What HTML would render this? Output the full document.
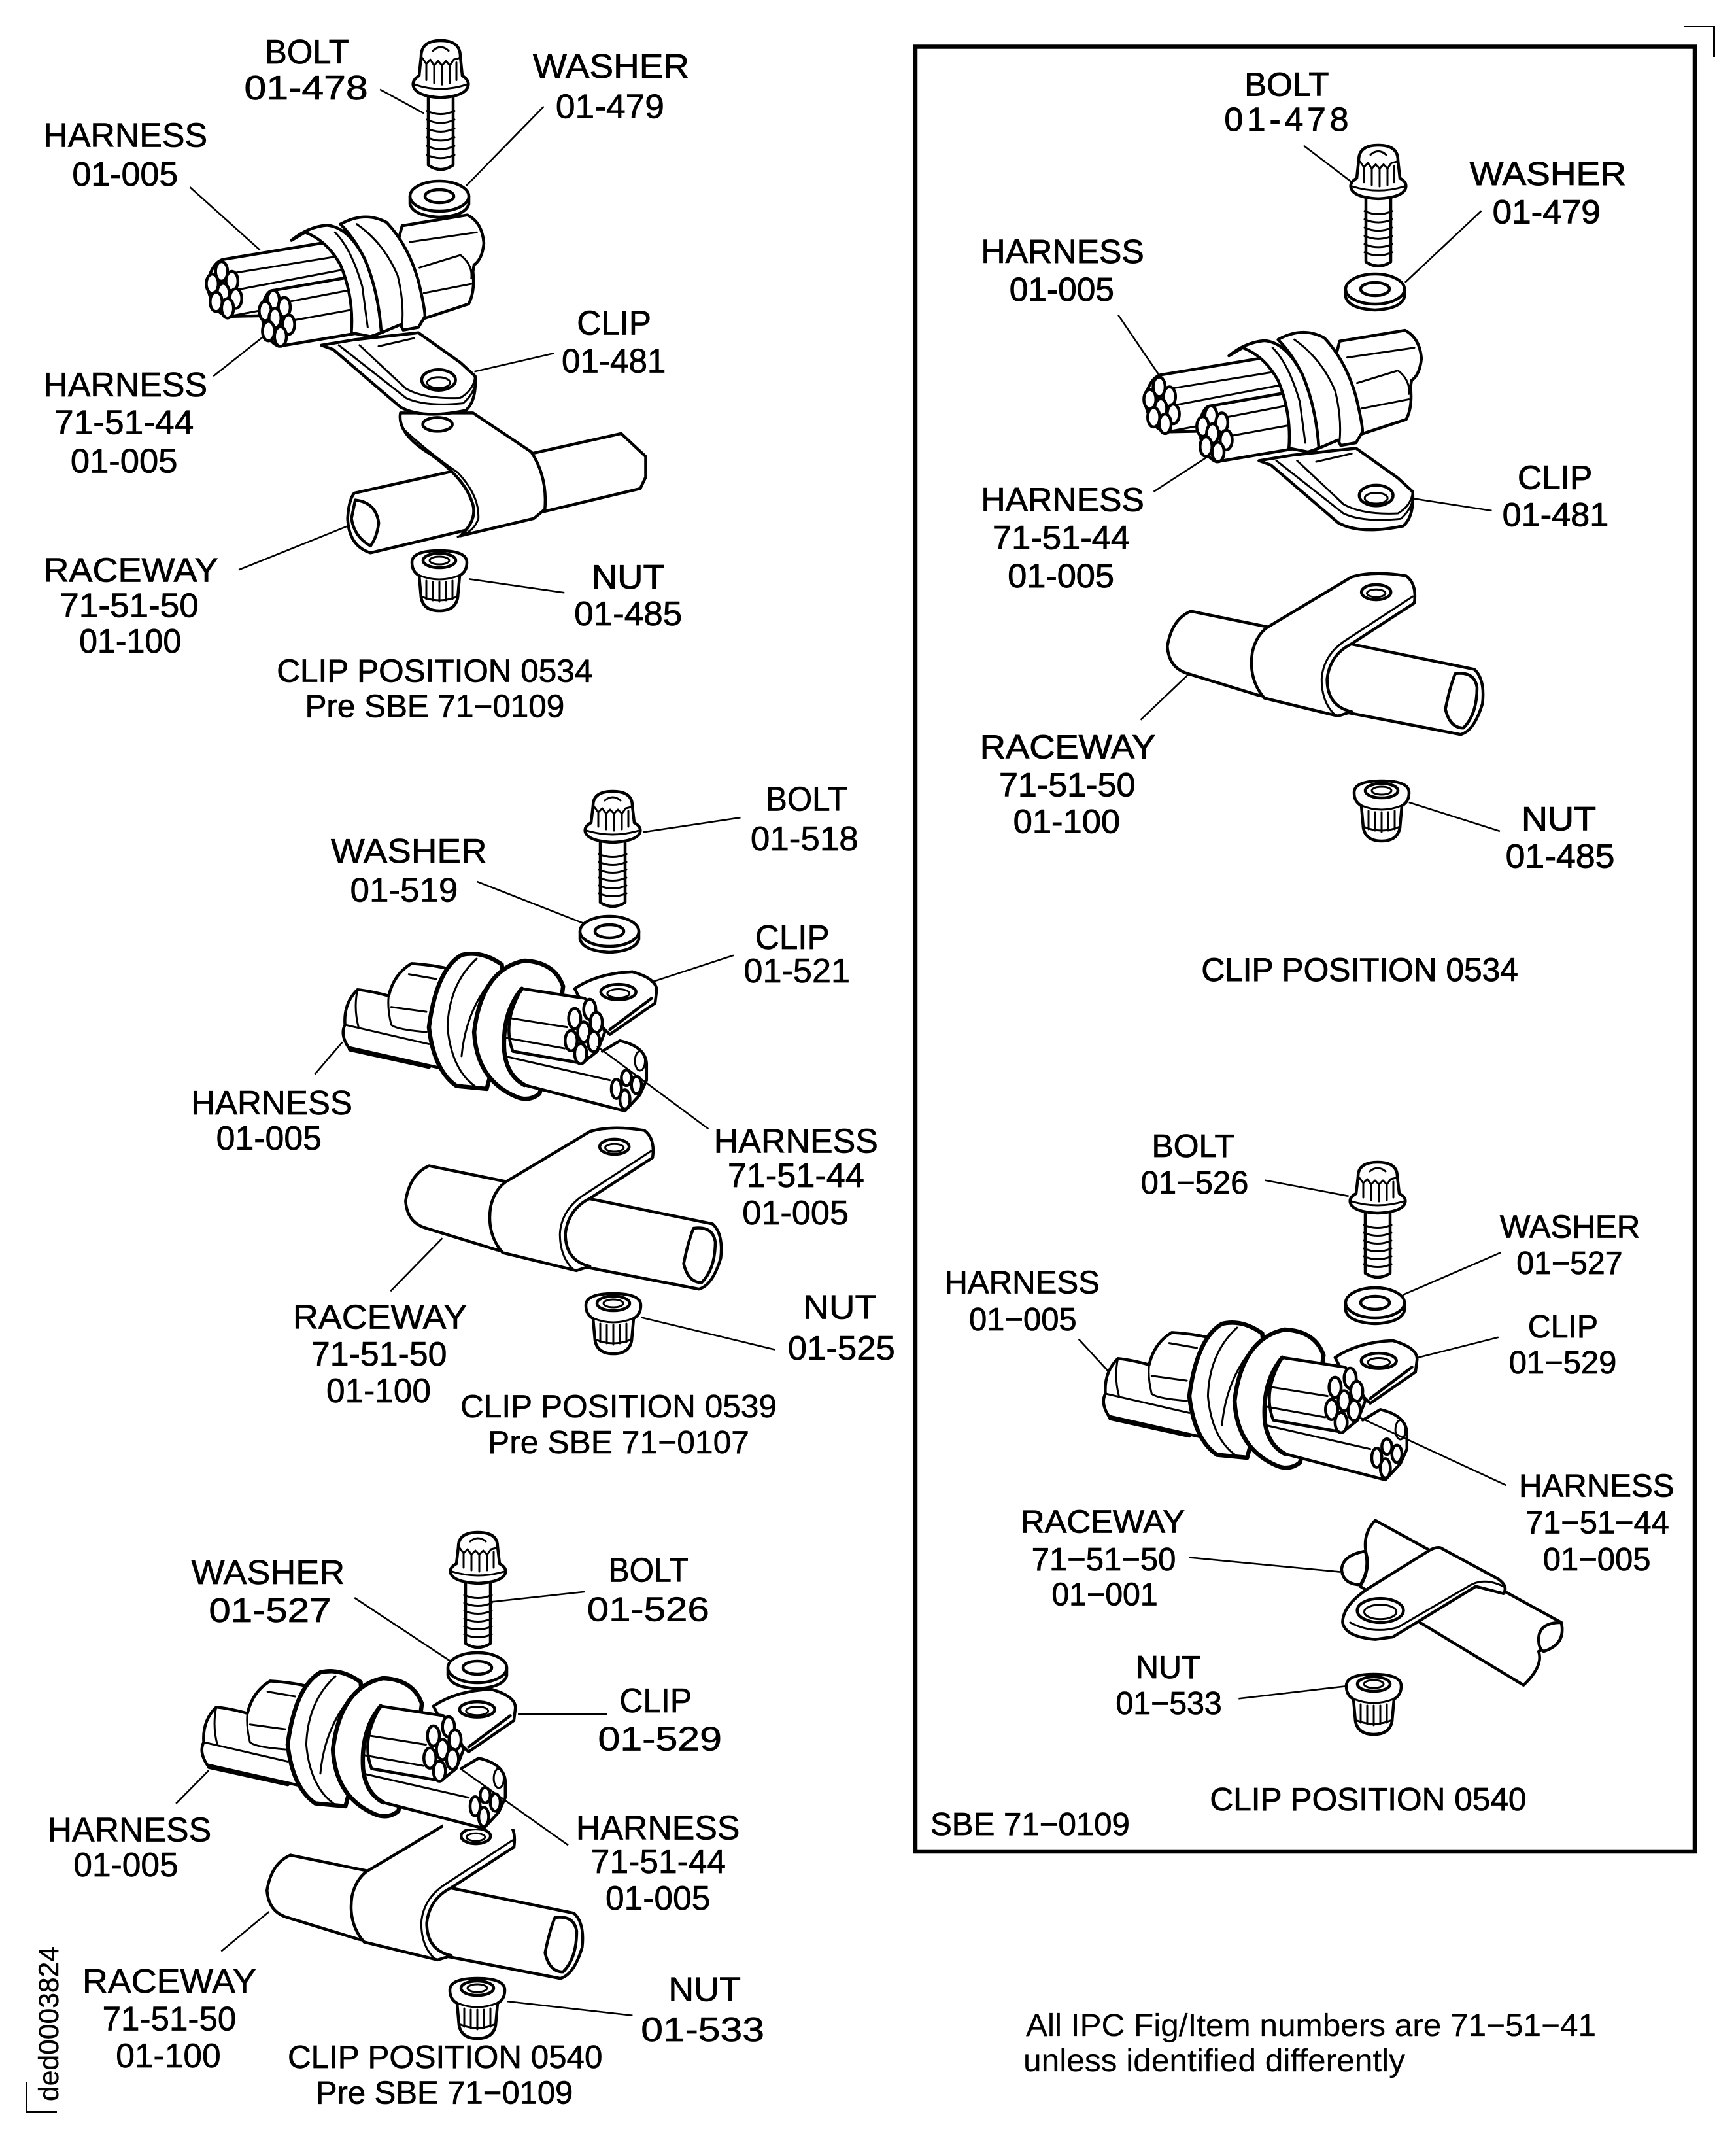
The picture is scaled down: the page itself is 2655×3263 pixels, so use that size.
<!DOCTYPE html>
<html><head><meta charset="utf-8"><title>Clip positions</title>
<style>
html,body{margin:0;padding:0;background:#fff}
svg{display:block}
path,ellipse,line,rect,polyline{vector-effect:non-scaling-stroke}
.d{fill:#fff;stroke:#000;stroke-width:4.5;stroke-linejoin:round;stroke-linecap:round}
.n{fill:none}
.t{fill:none;stroke-width:3}
.h{stroke-width:6.5}
.hn{fill:none;stroke-width:6.5}
.l{stroke:#000;stroke-width:2.6;fill:none}
text{font-family:"Liberation Sans",sans-serif;fill:#000;stroke:#000;stroke-width:1.1}
</style></head><body>
<svg xmlns="http://www.w3.org/2000/svg" width="2655" height="3263" viewBox="0 0 2655 3263">
<rect width="2655" height="3263" fill="#fff"/>
<defs>
<g id="bolt" class="d">
<path d="M-19,74 L-19,170 Q0,182 19,170 L19,74 Z"/>
<path class="t" d="M-21,96 Q0,105 21,96 M-21,108 Q0,117 21,108 M-21,120 Q0,129 21,120 M-21,132 Q0,141 21,132 M-21,144 Q0,153 21,144 M-21,156 Q0,165 21,156"/>
<path d="M-30,22 Q-30,0 0,0 Q30,0 30,22 L33,48 Q44,54 42,62 Q38,76 0,78 Q-38,76 -42,62 Q-44,54 -33,48 Z"/>
<path class="t" d="M-12,14 Q0,4 12,14"/>
<path class="t" d="M-28,24 L-22,32 L-16,26 L-10,34 L-4,28 L2,34 L8,28 L14,34 L20,26 L28,24 M-22,32 V54 M-10,34 V58 M2,34 V60 M14,34 V58 M24,30 V54 M-40,60 Q0,72 40,60"/>
</g>
<g id="washer" class="d">
<path d="M-45,0 V12 Q-40,30 0,32 Q40,30 45,12 V0 Z"/>
<ellipse cx="0" cy="0" rx="45" ry="23"/>
<ellipse cx="0" cy="0" rx="22" ry="10"/>
</g>
<g id="nut" class="d">
<path d="M-42,18 Q-42,0 0,0 Q42,0 42,18 Q42,32 31,38 L28,72 Q24,92 0,92 Q-24,92 -28,72 L-31,38 Q-42,32 -42,18 Z"/>
<ellipse cx="0" cy="15" rx="25" ry="11"/>
<ellipse class="t" cx="0" cy="15" rx="15" ry="6"/>
<path class="t" d="M-30,38 Q0,50 30,38 M-28,70 Q0,82 28,70 M-20,46 V74 M-10,48 V76 M0,48 V78 M10,48 V76 M20,46 V74"/>
</g>
<g id="harnessA" class="d">
<path d="M838,628 L958,608 Q985,622 988,660 Q985,690 970,700 L968,712 Q972,750 960,772 L875,800 L820,700 Z"/>
<path class="t" d="M852,658 L975,640 M870,705 L945,682 Q968,700 965,725 M878,752 L965,735"/>
<path d="M510,690 L720,655 L760,790 L520,795 Q490,790 480,735 Q490,695 510,690 Z"/>
<path class="t" d="M530,715 L715,685 M540,745 L735,708 M520,795 L600,780"/>
<ellipse cx="507" cy="712" rx="11" ry="18"/><ellipse cx="490" cy="735" rx="11" ry="18"/><ellipse cx="526" cy="730" rx="11" ry="18"/><ellipse cx="510" cy="752" rx="11" ry="18"/><ellipse cx="533" cy="762" rx="11" ry="18"/><ellipse cx="497" cy="768" rx="11" ry="18"/><ellipse cx="518" cy="780" rx="11" ry="18"/>
<path d="M597,748 L745,722 L760,825 L612,850 Q585,840 580,785 Q585,755 597,748 Z"/>
<path class="t" d="M630,768 L750,745 M640,802 L750,782"/>
<ellipse cx="602" cy="765" rx="11" ry="18"/><ellipse cx="587" cy="785" rx="11" ry="18"/><ellipse cx="622" cy="778" rx="11" ry="18"/><ellipse cx="605" cy="798" rx="11" ry="18"/><ellipse cx="630" cy="810" rx="11" ry="18"/><ellipse cx="593" cy="822" rx="11" ry="18"/><ellipse cx="615" cy="832" rx="11" ry="18"/>
<path d="M690,848 L712,856 L835,962 Q875,985 955,968 Q975,950 972,905 L945,880 L868,825 L750,838 Z"/>
<path class="t" d="M722,848 L845,945 Q880,962 950,955 Q972,935 972,915 M760,848 L845,928 Q880,948 945,945 Q970,930 972,905"/>
<ellipse cx="905" cy="912" rx="31" ry="19"/><ellipse class="t" cx="905" cy="917" rx="21" ry="10"/>
<path class="t" d="M795,850 L860,835"/>
<path d="M635,655 Q665,630 700,627 Q740,630 770,690 Q795,750 800,825 L780,832 L745,825 Q750,760 725,700 Q700,655 660,640 Z"/>
<path d="M725,625 Q770,600 810,622 Q850,665 868,730 Q880,780 880,795 L868,815 L840,820 L835,810 L800,825 Q795,750 770,690 Q750,650 725,625 Z"/>
<path class="t" d="M755,625 Q805,660 830,720 Q842,770 838,812 M715,640 Q745,670 765,740 L775,815"/>
</g>
<g id="harnessB" class="d">
<path d="M835,510 Q880,478 950,475 Q1000,490 998,515 L995,540 L905,605 L860,560 Z"/>
<path class="n" d="M988,530 L905,595"/>
<ellipse cx="922" cy="517" rx="35" ry="16"/><ellipse class="t" cx="922" cy="520" rx="22" ry="9"/>
<path d="M510,458 Q550,460 590,470 L590,680 L385,632 Q368,605 378,585 Q375,540 403,512 Q430,515 465,525 Q475,480 510,458 Z"/>
<path class="t" d="M378,585 L545,625 M465,525 Q462,550 470,585 Q480,595 540,600 M470,548 L540,558 M505,480 L560,490 M403,512 Q395,550 405,590"/>
<path class="hn" d="M388,636 L545,672"/>
<path class="h" d="M610,440 Q560,470 545,590 Q555,680 600,712 L660,718 L700,560 L690,460 Q650,430 610,440 Z"/>
<path class="t" d="M640,448 Q585,500 582,590 Q590,680 640,715"/>
<path class="h" d="M812,505 Q795,455 735,452 Q650,470 635,600 Q640,700 720,735 Q745,745 765,728 L800,600 Z"/>
<path class="t" d="M690,470 Q620,540 610,650"/>
<path d="M700,640 L890,640 L925,618 Q975,630 978,665 L978,700 L965,730 L935,764 L735,710 Z" stroke="none"/>
<path class="n" d="M735,710 L935,764 L965,730 L978,700 L978,665 Q975,630 925,618 L890,640"/>
<path class="t" d="M695,650 L905,700"/>
<ellipse cx="918" cy="718" rx="10" ry="20"/><ellipse cx="935" cy="740" rx="10" ry="20"/><ellipse cx="958" cy="710" rx="10" ry="18"/><ellipse cx="938" cy="695" rx="10" ry="16"/><ellipse class="t" cx="965" cy="660" rx="10" ry="20"/>
<path d="M730,510 L855,530 L880,560 L895,600 L880,640 L850,665 L712,640 Q690,580 730,510 Z"/>
<path class="hn" d="M730,510 Q690,560 695,640 Q700,690 735,710"/>
<path class="t" d="M698,612 L815,634 M700,570 L820,590"/>
<ellipse cx="865" cy="553" rx="12" ry="21"/><ellipse cx="835" cy="572" rx="12" ry="21"/><ellipse cx="878" cy="580" rx="12" ry="21"/><ellipse cx="853" cy="600" rx="12" ry="21"/><ellipse cx="828" cy="618" rx="12" ry="21"/><ellipse cx="873" cy="620" rx="12" ry="21"/><ellipse cx="847" cy="645" rx="12" ry="21"/>
</g>
<g id="raceway" class="d">
<path d="M565,1125 L1085,1232 Q1105,1250 1100,1295 Q1085,1345 1060,1352 L690,1280 L560,1240 Q525,1230 522,1190 Q530,1140 565,1125 Z"/>
<path d="M1050,1240 Q1085,1235 1090,1265 Q1090,1315 1065,1340 Q1040,1340 1032,1305 Q1040,1265 1050,1240 Z"/>
<path d="M705,1155 L860,1062 Q900,1050 960,1060 Q980,1075 975,1110 L860,1185 Q820,1205 815,1250 Q815,1300 860,1310 L835,1318 L700,1285 Q670,1250 678,1200 Q685,1170 705,1155 Z"/>
<path class="t" d="M972,1098 L850,1178 Q808,1205 805,1250 Q805,1295 832,1318"/>
<ellipse cx="905" cy="1090" rx="27" ry="14"/><ellipse class="t" cx="905" cy="1092" rx="17" ry="7"/>
</g>
</defs>

<!-- frame and corner marks -->
<rect x="1400" y="71.5" width="1192" height="2759.5" fill="none" stroke="#000" stroke-width="6.5"/>
<path d="M2575,40.5 H2621.5 V87" fill="none" stroke="#000" stroke-width="3"/>
<path d="M40.5,3183 V3229.5 H87" fill="none" stroke="#000" stroke-width="3"/>
<text transform="translate(89,3213) rotate(-90)" font-size="43" textLength="237" lengthAdjust="spacingAndGlyphs" style="stroke-width:.4">ded0003824</text>
<text x="1569" y="3113" font-size="48" textLength="872" lengthAdjust="spacingAndGlyphs" style="stroke-width:.2">All IPC Fig/Item numbers are 71−51−41</text>
<text x="1565" y="3167" font-size="48" textLength="584" lengthAdjust="spacingAndGlyphs" style="stroke-width:.2">unless identified differently</text>
<text x="704" y="2167" font-size="49" textLength="484" lengthAdjust="spacingAndGlyphs" style="stroke-width:.5">CLIP POSITION 0539</text>
<text x="746" y="2222" font-size="49" textLength="400" lengthAdjust="spacingAndGlyphs" style="stroke-width:.5">Pre SBE 71−0107</text>

<!-- parts -->
<use href="#bolt" transform="translate(674,62) scale(1,1.12)"/>
<use href="#washer" transform="translate(672,300)"/>
<use href="#nut" transform="translate(672,842)"/>
<use href="#bolt" transform="translate(2108,222) scale(1,1.05)"/>
<use href="#washer" transform="translate(2103,442)"/>
<use href="#nut" transform="translate(2113,1194)"/>
<use href="#bolt" transform="translate(937,1210)"/>
<use href="#washer" transform="translate(932,1424)"/>
<use href="#nut" transform="translate(938,1978)"/>
<use href="#bolt" transform="translate(2107,1777)"/>
<use href="#washer" transform="translate(2103,1992)"/>
<use href="#nut" transform="translate(2101,2560)"/>
<use href="#bolt" transform="translate(731,2343)"/>
<use href="#washer" transform="translate(730,2550)"/>
<use href="#nut" transform="translate(730,3025)"/>

<!-- G1 raceway -->
<g transform="scale(.8333,.7015)" class="d">
<path d="M650,1075 L1140,945 L1185,995 L1185,1040 L1175,1065 L680,1205 Q640,1190 638,1130 Q640,1090 650,1075 Z"/>
<path d="M652,1090 Q690,1095 695,1140 Q692,1170 680,1190 Q650,1170 645,1130 Z"/>
<path d="M735,900 Q728,945 790,990 Q850,1040 865,1090 Q880,1130 845,1168 L980,1130 L1000,1110 Q1005,1040 975,985 L868,900 Z"/>
<path class="t" d="M740,935 Q790,990 840,1030 Q880,1080 878,1130 Q870,1160 840,1170"/>
<ellipse cx="803" cy="925" rx="27" ry="15"/>
</g>
<use href="#harnessA" transform="translate(-84,-176) scale(.834,.83)"/>
<use href="#harnessA" transform="translate(1350,0) scale(.8339,.8307)"/>
<use href="#raceway" transform="translate(1350,0) scale(.8339,.8307)"/>
<use href="#raceway" transform="translate(185,848) scale(.8339,.8307)"/>
<use href="#harnessB" transform="translate(237,1136) scale(.7687,.7367)"/>
<use href="#harnessB" transform="translate(1400,1700) scale(.7687,.7367)"/>
<use href="#raceway" transform="translate(-27,1902) scale(.8339,.8307)"/>
<rect x="677" y="2770" width="118" height="26" fill="#fff"/>
<use href="#harnessB" transform="translate(21,2233) scale(.7687,.7367)"/>

<!-- G4 raceway -->
<g transform="translate(1400,1700) scale(.7687,.7367)" class="d">
<path d="M915,848 L1285,1060 Q1295,1095 1240,1120 Q1250,1150 1210,1190 L885,985 Q900,960 900,930 Q885,880 915,848 Z"/>
<path d="M895,912 Q850,920 848,950 Q850,980 885,982 Q905,950 895,912 Z"/>
<path d="M1285,1060 Q1240,1060 1240,1095 Q1240,1115 1250,1120 Q1295,1105 1285,1060 Z"/>
<path d="M1045,905 L1160,970 Q1180,985 1170,1000 L1115,985 L950,1090 L915,1095 Q855,1090 850,1060 Q850,1025 900,990 L1020,912 Q1035,902 1045,905 Z"/>
<path class="t" d="M1170,985 Q1130,965 1100,985 L960,1070 Q910,1085 865,1060"/>
<ellipse cx="925" cy="1035" rx="46" ry="25"/><ellipse class="t" cx="925" cy="1038" rx="32" ry="15"/>
</g>

<!-- G1 labels -->
<g transform="scale(.83,.7015)">
<g font-size="74">
<text x="488" y="138" textLength="155" lengthAdjust="spacingAndGlyphs">BOLT</text>
<text x="450" y="217" textLength="228" lengthAdjust="spacingAndGlyphs">01-478</text>
<text x="982" y="170" textLength="288" lengthAdjust="spacingAndGlyphs">WASHER</text>
<text x="1024" y="257" textLength="200" lengthAdjust="spacingAndGlyphs">01-479</text>
<text x="80" y="320" textLength="302" lengthAdjust="spacingAndGlyphs">HARNESS</text>
<text x="133" y="405" textLength="195" lengthAdjust="spacingAndGlyphs">01-005</text>
<text x="1063" y="729" textLength="137" lengthAdjust="spacingAndGlyphs">CLIP</text>
<text x="1035" y="812" textLength="192" lengthAdjust="spacingAndGlyphs">01-481</text>
<text x="80" y="864" textLength="302" lengthAdjust="spacingAndGlyphs">HARNESS</text>
<text x="100" y="946" textLength="257" lengthAdjust="spacingAndGlyphs">71-51-44</text>
<text x="130" y="1030" textLength="197" lengthAdjust="spacingAndGlyphs">01-005</text>
<text x="80" y="1268" textLength="322" lengthAdjust="spacingAndGlyphs">RACEWAY</text>
<text x="110" y="1345" textLength="256" lengthAdjust="spacingAndGlyphs">71-51-50</text>
<text x="146" y="1423" textLength="188" lengthAdjust="spacingAndGlyphs">01-100</text>
<text x="1090" y="1283" textLength="135" lengthAdjust="spacingAndGlyphs">NUT</text>
<text x="1058" y="1363" textLength="199" lengthAdjust="spacingAndGlyphs">01-485</text>
</g>
<g font-size="70" style="stroke-width:.6">
<text x="510" y="1486" textLength="582" lengthAdjust="spacingAndGlyphs">CLIP POSITION 0534</text>
<text x="562" y="1563" textLength="478" lengthAdjust="spacingAndGlyphs">Pre SBE 71−0109</text>
</g>
<path class="l" d="M700,195 L781,247 M1002,232 L859,405 M350,408 L479,545 M393,820 L486,733 M1021,770 L874,810 M440,1242 L644,1145 M1040,1292 L864,1262"/>
</g>

<!-- G2 labels -->
<g transform="translate(1347,0) scale(.8339,.827)">
<g font-size="62" style="stroke-width:.4">
<text x="667" y="177" textLength="155" lengthAdjust="spacingAndGlyphs">BOLT</text>
<text x="630" y="242" textLength="228">01-478</text>
<text x="1080" y="342" textLength="287" lengthAdjust="spacingAndGlyphs">WASHER</text>
<text x="1122" y="413" textLength="198" lengthAdjust="spacingAndGlyphs">01-479</text>
<text x="184" y="486" textLength="299" lengthAdjust="spacingAndGlyphs">HARNESS</text>
<text x="236" y="556" textLength="192" lengthAdjust="spacingAndGlyphs">01-005</text>
<text x="184" y="945" textLength="299" lengthAdjust="spacingAndGlyphs">HARNESS</text>
<text x="205" y="1015" textLength="252" lengthAdjust="spacingAndGlyphs">71-51-44</text>
<text x="233" y="1086" textLength="195" lengthAdjust="spacingAndGlyphs">01-005</text>
<text x="1168" y="904" textLength="137" lengthAdjust="spacingAndGlyphs">CLIP</text>
<text x="1140" y="973" textLength="195" lengthAdjust="spacingAndGlyphs">01-481</text>
<text x="182" y="1402" textLength="322" lengthAdjust="spacingAndGlyphs">RACEWAY</text>
<text x="217" y="1472" textLength="250" lengthAdjust="spacingAndGlyphs">71-51-50</text>
<text x="243" y="1540" textLength="196" lengthAdjust="spacingAndGlyphs">01-100</text>
<text x="1175" y="1535" textLength="137" lengthAdjust="spacingAndGlyphs">NUT</text>
<text x="1146" y="1604" textLength="200" lengthAdjust="spacingAndGlyphs">01-485</text>
<text x="588" y="1814" font-size="60" textLength="581" lengthAdjust="spacingAndGlyphs">CLIP POSITION 0534</text>
</g>
</g>
<g transform="translate(1350,0) scale(.8339,.8307)">
<path class="l" d="M772,268 L860,335 M1098,388 L958,520 M432,580 L510,695 M497,905 L600,838 M1117,940 L975,918 M473,1325 L562,1240 M1132,1530 L965,1477"/>
</g>

<!-- G3 labels -->
<g transform="translate(250,1150) scale(.7015,.638)">
<g font-size="81">
<text x="1313" y="140" textLength="178" lengthAdjust="spacingAndGlyphs">BOLT</text>
<text x="1280" y="235" textLength="235" lengthAdjust="spacingAndGlyphs">01-518</text>
<text x="365" y="265" textLength="340" lengthAdjust="spacingAndGlyphs">WASHER</text>
<text x="407" y="358" textLength="235" lengthAdjust="spacingAndGlyphs">01-519</text>
<text x="1290" y="472" textLength="162" lengthAdjust="spacingAndGlyphs">CLIP</text>
<text x="1265" y="552" textLength="232" lengthAdjust="spacingAndGlyphs">01-521</text>
<text x="60" y="868" textLength="352" lengthAdjust="spacingAndGlyphs">HARNESS</text>
<text x="115" y="953" textLength="230" lengthAdjust="spacingAndGlyphs">01-005</text>
<text x="1200" y="960" textLength="358" lengthAdjust="spacingAndGlyphs">HARNESS</text>
<text x="1230" y="1042" textLength="298" lengthAdjust="spacingAndGlyphs">71-51-44</text>
<text x="1262" y="1132" textLength="232" lengthAdjust="spacingAndGlyphs">01-005</text>
<text x="282" y="1382" textLength="380" lengthAdjust="spacingAndGlyphs">RACEWAY</text>
<text x="322" y="1470" textLength="296" lengthAdjust="spacingAndGlyphs">71-51-50</text>
<text x="355" y="1558" textLength="228" lengthAdjust="spacingAndGlyphs">01-100</text>
<text x="1395" y="1358" textLength="160" lengthAdjust="spacingAndGlyphs">NUT</text>
<text x="1361" y="1456" textLength="234" lengthAdjust="spacingAndGlyphs">01-525</text>
</g>
<path class="l" d="M1258,157 L1045,192 M683,310 L915,410 M1243,487 L1062,552 M330,772 L390,695 M1188,903 L945,705 M495,1292 L608,1165 M1333,1432 L1042,1355"/>
</g>

<!-- G4 labels -->
<g transform="translate(1400,1700) scale(.766,.734)">
<g font-size="67" style="stroke-width:.2">
<text x="472" y="94" textLength="165" lengthAdjust="spacingAndGlyphs">BOLT</text>
<text x="450" y="170" textLength="215" lengthAdjust="spacingAndGlyphs">01−526</text>
<text x="1167" y="262" textLength="280" lengthAdjust="spacingAndGlyphs">WASHER</text>
<text x="1200" y="338" textLength="212" lengthAdjust="spacingAndGlyphs">01−527</text>
<text x="58" y="378" textLength="310" lengthAdjust="spacingAndGlyphs">HARNESS</text>
<text x="107" y="455" textLength="215" lengthAdjust="spacingAndGlyphs">01−005</text>
<text x="1223" y="470" textLength="140" lengthAdjust="spacingAndGlyphs">CLIP</text>
<text x="1185" y="545" textLength="215" lengthAdjust="spacingAndGlyphs">01−529</text>
<text x="1205" y="802" textLength="310" lengthAdjust="spacingAndGlyphs">HARNESS</text>
<text x="1218" y="878" textLength="287" lengthAdjust="spacingAndGlyphs">71−51−44</text>
<text x="1253" y="955" textLength="215" lengthAdjust="spacingAndGlyphs">01−005</text>
<text x="210" y="877" textLength="328" lengthAdjust="spacingAndGlyphs">RACEWAY</text>
<text x="232" y="955" textLength="288" lengthAdjust="spacingAndGlyphs">71−51−50</text>
<text x="272" y="1028" textLength="212" lengthAdjust="spacingAndGlyphs">01−001</text>
<text x="440" y="1180" textLength="130" lengthAdjust="spacingAndGlyphs">NUT</text>
<text x="400" y="1255" textLength="212" lengthAdjust="spacingAndGlyphs">01−533</text>
<text x="588" y="1455" textLength="632" lengthAdjust="spacingAndGlyphs">CLIP POSITION 0540</text>
<text x="30" y="1507" textLength="398" lengthAdjust="spacingAndGlyphs">SBE 71−0109</text>
</g>
</g>
<g transform="translate(1400,1700) scale(.7687,.7367)">
<path class="l" d="M695,142 L862,175 M1165,292 L970,380 M325,472 L385,540 M1160,468 L1000,510 M1175,775 L885,635 M545,925 L845,955 M643,1218 L858,1192"/>
</g>

<!-- G5 labels -->
<g transform="translate(0,2300) scale(.764,.615)">
<g font-size="84">
<text x="383" y="198" textLength="307" lengthAdjust="spacingAndGlyphs">WASHER</text>
<text x="418" y="293" textLength="245" lengthAdjust="spacingAndGlyphs">01-527</text>
<text x="1218" y="193" textLength="160" lengthAdjust="spacingAndGlyphs">BOLT</text>
<text x="1175" y="290" textLength="245" lengthAdjust="spacingAndGlyphs">01-526</text>
<text x="1240" y="517" textLength="145" lengthAdjust="spacingAndGlyphs">CLIP</text>
<text x="1197" y="612" textLength="248" lengthAdjust="spacingAndGlyphs">01-529</text>
<text x="95" y="838" textLength="328" lengthAdjust="spacingAndGlyphs">HARNESS</text>
<text x="147" y="925" textLength="210" lengthAdjust="spacingAndGlyphs">01-005</text>
<text x="1153" y="833" textLength="328" lengthAdjust="spacingAndGlyphs">HARNESS</text>
<text x="1183" y="917" textLength="270" lengthAdjust="spacingAndGlyphs">71-51-44</text>
<text x="1212" y="1008" textLength="210" lengthAdjust="spacingAndGlyphs">01-005</text>
<text x="165" y="1215" textLength="348" lengthAdjust="spacingAndGlyphs">RACEWAY</text>
<text x="205" y="1308" textLength="268" lengthAdjust="spacingAndGlyphs">71-51-50</text>
<text x="232" y="1400" textLength="210" lengthAdjust="spacingAndGlyphs">01-100</text>
<text x="1338" y="1235" textLength="145" lengthAdjust="spacingAndGlyphs">NUT</text>
<text x="1283" y="1335" textLength="247" lengthAdjust="spacingAndGlyphs">01-533</text>
</g>
<g font-size="80" style="stroke-width:.6">
<text x="576" y="1402" textLength="630" lengthAdjust="spacingAndGlyphs">CLIP POSITION 0540</text>
<text x="632" y="1490" textLength="515" lengthAdjust="spacingAndGlyphs">Pre SBE 71−0109</text>
</g>
</g>
<g transform="translate(0,2300) scale(.769,.617)">
<path class="l" d="M705,232 L897,390 M1163,217 L978,242 M1207,520 L1030,520 M350,742 L415,660 M1130,845 L915,655 M440,1108 L535,1010 M1258,1267 L1008,1232"/>
</g>
</svg>
</body></html>
